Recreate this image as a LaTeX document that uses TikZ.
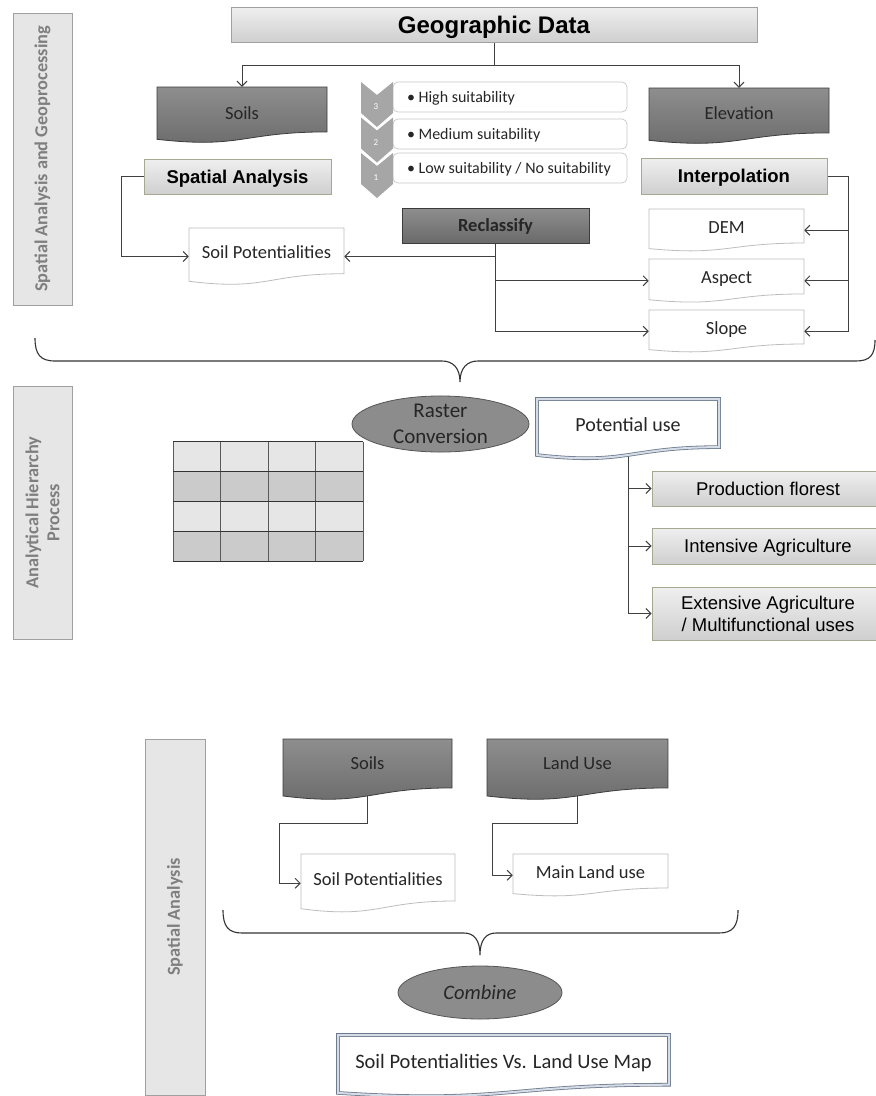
\documentclass[tikz,border=0pt]{standalone}
\usepackage{fontspec}
\setmainfont{Carlito}
\newfontfamily\arialf{Liberation Sans}
\usetikzlibrary{arrows.meta,shapes.geometric,fit}
\pgfdeclarelayer{bg}
\pgfsetlayers{bg,main}

\definecolor{linec}{HTML}{404040}
\definecolor{darkfillT}{HTML}{8E8E8E}
\definecolor{darkfillB}{HTML}{6A6A6A}
\definecolor{darkbord}{HTML}{3C3C3C}
\definecolor{lightT}{HTML}{EFEFEF}
\definecolor{lightB}{HTML}{CFCFCF}
\definecolor{khaki}{HTML}{A8A890}
\definecolor{barfill}{HTML}{E6E6E6}
\definecolor{barbord}{HTML}{A0A0A0}
\definecolor{bartext}{HTML}{7F7F7F}
\definecolor{docbord}{HTML}{BDBDBD}
\definecolor{dblbord}{HTML}{6E7B8E}
\definecolor{dblin}{HTML}{D5DCE6}
\definecolor{chev}{HTML}{A6A6A6}
\definecolor{txt}{HTML}{262626}
\definecolor{rowA}{HTML}{E6E6E6}
\definecolor{rowB}{HTML}{CBCBCB}
\definecolor{ellfill}{HTML}{8C8C8C}
\definecolor{ellbord}{HTML}{555555}
\definecolor{gridh}{HTML}{333333}
\definecolor{gridv}{HTML}{5A5A5A}
\definecolor{roundb}{HTML}{C8C8C8}

% name, x1, y1, x2, h, path style, text, text style
\newcommand{\docbox}[8]{%
  \path[#6] (#2,#3) -- (#4,#3) -- (#4,{#3+0.802*#5}) .. controls ({0.5*(#2+#4)},{#3+0.802*#5}) and ({0.5*(#2+#4)},{#3+1.107*#5}) .. (#2,{#3+0.934*#5}) -- cycle;
  \coordinate (#1-nw) at (#2,#3);
  \coordinate (#1-se) at (#4,{#3+#5});
  \node[fit=(#1-nw)(#1-se), inner sep=0pt] (#1) {};
  \node[#8] (#1-t) at ({0.5*(#2+#4)},{#3+0.401*#5}) {#7};
}

\tikzset{
  line/.style={draw=linec, line width=1pt},
  arr/.style={line, -{Straight Barb[length=5pt,width=10pt]}},
  gbox/.style={draw=khaki, line width=0.8pt, top color=lightT, bottom color=lightB, inner sep=0pt,
    font=\arialf\bfseries\fontsize{18.5}{22}\selectfont, text=black, text depth=0pt},
  gboxr/.style={gbox, font=\arialf\fontsize{18.5}{22}\selectfont, align=center},
  dark/.style={draw=darkbord, line width=0.8pt, top color=darkfillT, bottom color=darkfillB},
  darktext/.style={font=\fontsize{18.5}{22}\selectfont, text=txt, inner sep=0pt},
  whitedoc/.style={draw=docbord, line width=0.8pt, fill=white},
  dbldoc/.style={draw=dblbord, double=dblin, double distance=2pt, line width=0.8pt},
  plaintext/.style={font=\fontsize{18.5}{22}\selectfont, text=txt, inner sep=0pt, text depth=0pt, yshift=-1.5pt},
  bar/.style={draw=barbord, line width=0.8pt, fill=barfill, text=bartext, inner sep=0pt,
    font=\bfseries\fontsize{18.3}{21}\selectfont, align=center, rotate=90},
  sbox/.style={draw=roundb, line width=0.7pt, fill=white, rounded corners=5pt, minimum width=234pt,
    minimum height=30pt, inner sep=0pt, font=\fontsize{16}{19}\selectfont, text=txt, text depth=0pt},
  ell/.style={ellipse, draw=ellbord, line width=0.8pt, fill=ellfill, inner sep=0pt, text=txt},
  brace/.style={draw=gridh, line width=1.1pt},
}

\begin{document}
\begin{tikzpicture}[x=1pt, y=-1pt]
\clip (0,0) rectangle (876,1096);
\begin{pgfonlayer}{bg}
  \fill[white] (0,0) rectangle (876,1096);
\end{pgfonlayer}

% ---------- left bars ----------
\node[bar, minimum width=292pt, minimum height=59pt] (bar1) at (42.5,159) {Spatial Analysis and Geoprocessing};
\node[bar, minimum width=253pt, minimum height=59pt] (bar2) at (42.5,512.5) {Analytical Hierarchy\\Process};
\node[bar, minimum width=356pt, minimum height=60pt] (bar3) at (175,917) {Spatial Analysis};

% ---------- section 1 ----------
\node[gbox, draw=barbord, minimum width=526pt, minimum height=35pt,
  font=\arialf\bfseries\fontsize{24}{28}\selectfont] (GD) at (494,24.5) {Geographic Data};

\docbox{soils}{157}{87}{327}{56}{dark}{Soils}{darktext, yshift=-4pt}
\docbox{elev}{649}{88}{829}{56}{dark}{Elevation}{darktext, yshift=-3pt}

\node[gbox, minimum width=187pt, minimum height=35pt] (SA) at (237.5,176.5) {Spatial Analysis};
\node[gbox, minimum width=186pt, minimum height=36pt] (IP) at (734,176) {Interpolation};

% chevron list
\node[sbox] (hs) at (510,97) {\makebox[206pt][l]{• High suitability}};
\node[sbox] (ms) at (510,134) {\makebox[206pt][l]{• Medium suitability}};
\node[sbox] (ls) at (510,168) {\makebox[206pt][l]{• Low suitability / No suitability}};
\foreach \yt/\n in {82/3,117.5/2,153/1} {
  \fill[chev] (361,\yt) -- (377,{\yt+13}) -- (393,\yt) -- (393,{\yt+31}) -- (377,{\yt+45}) -- (361,{\yt+31}) -- cycle;
  \node[font=\fontsize{9}{10}\selectfont, text=white, inner sep=0pt] (num\n) at (376,{\yt+25}) {\n};
}

\node[dark, minimum width=187pt, minimum height=35pt, inner sep=0pt, text depth=0pt,
  font=\bfseries\fontsize{18.5}{22}\selectfont, text=txt] (RC) at (495.5,225.5) {Reclassify};

\docbox{SPt}{189}{228}{344}{57}{whitedoc}{Soil Potentialities}{plaintext}
\docbox{dem}{649}{209}{804}{42.4}{whitedoc}{DEM}{plaintext}
\docbox{asp}{649}{259}{804}{43.6}{whitedoc}{Aspect}{plaintext}
\docbox{slo}{649}{310}{804}{42.4}{whitedoc}{Slope}{plaintext}

% brace 1
\draw[brace] (35,338) .. controls (35,354) and (40,361) .. (55,361) -- (442,361)
  .. controls (453,361) and (460,368) .. (460,382)
  .. controls (460,368) and (467,361) .. (478,361) -- (856,361)
  .. controls (870,361) and (875,355) .. (875,340);

% ---------- section 2 ----------
\node[ell, minimum width=177pt, minimum height=56pt, align=center,
  font=\fontsize{21}{26}\selectfont] (RCV) at (440.5,424) {Raster\\Conversion};

\docbox{PU}{537}{399}{719}{60}{dbldoc, fill=white}{Potential use}{plaintext, font=\fontsize{20}{24}\selectfont}

\node[gboxr, minimum width=232pt, minimum height=35pt] (PF) at (768,488.5) {Production florest};
\node[gboxr, minimum width=232pt, minimum height=36pt] (IA) at (768,546) {Intensive Agriculture};
\node[gboxr, minimum width=232pt, minimum height=53pt] (EA) at (768,613.5) {Extensive Agriculture\\ / Multifunctional uses};

% raster grid
\foreach \r/\c in {0/rowA,1/rowB,2/rowA,3/rowB}
  \fill[\c] (173,{441.7+29.825*\r}) rectangle (363,{441.7+29.825*(\r+1)});
\foreach \xx in {173,220.5,268,315.5,363}
  \draw[gridv, line width=1pt] (\xx,441.7) -- (\xx,561);
\foreach \yy in {441.7,471.5,501.3,531.2,561}
  \draw[gridh, line width=1pt] (173,\yy) -- (363,\yy);

% ---------- section 3 ----------
\docbox{soilsB}{283}{739}{452}{61}{dark}{Soils}{darktext}
\docbox{luse}{487}{739}{668}{61}{dark}{Land Use}{darktext}
\docbox{SPB}{301}{854}{455}{58.6}{whitedoc}{Soil Potentialities}{plaintext}
\docbox{MLU}{513}{854}{668}{42.4}{whitedoc}{Main Land use}{plaintext}

% brace 2
\draw[brace] (223,910) .. controls (223,926) and (228,933) .. (242,933) -- (464,933)
  .. controls (474,933) and (480,940) .. (480,955)
  .. controls (480,940) and (486,933) .. (496,933) -- (719,933)
  .. controls (733,933) and (738,926) .. (738,910);

\node[ell, minimum width=164pt, minimum height=53pt,
  font=\itshape\fontsize{20.5}{24}\selectfont] (CMB) at (480,992.5) {Combine};

\docbox{FIN}{338}{1035}{669}{62}{dbldoc, fill=white}{Soil Potentialities Vs. Land Use Map}{plaintext, font=\fontsize{20.5}{24}\selectfont}

% ---------- connectors (behind boxes) ----------
\begin{pgfonlayer}{bg}
  \coordinate (j1) at (494,65);
  \draw[line] (GD.center) -- (j1);
  \draw[arr] (j1) -| (soils.north);
  \draw[arr] (j1) -| (elev.north);

  \draw[arr] (SA.west) -- ++(-22,0) |- (SPt.west);
  \draw[arr] (RC.center) |- (SPt.east);
  \draw[arr] (RC.center) |- (asp.west);
  \draw[arr] (RC.center) |- (slo.west);

  \draw[arr] (IP.east) -- ++(21,0) |- (dem.east);
  \draw[arr] (IP.east) -- ++(21,0) |- (asp.east);
  \draw[arr] (IP.east) -- ++(21,0) |- (slo.east);

  \draw[arr] (PU.center) |- (PF.west);
  \draw[arr] (PU.center) |- (IA.west);
  \draw[arr] (PU.center) |- (EA.west);

  \coordinate (b1) at (279,823);
  \coordinate (b2) at (492,823);
  \draw[arr] (soilsB.center) |- (b1) |- (SPB.west);
  \draw[arr] (luse.center) |- (b2) |- (MLU.west);
\end{pgfonlayer}
\end{tikzpicture}
\end{document}
